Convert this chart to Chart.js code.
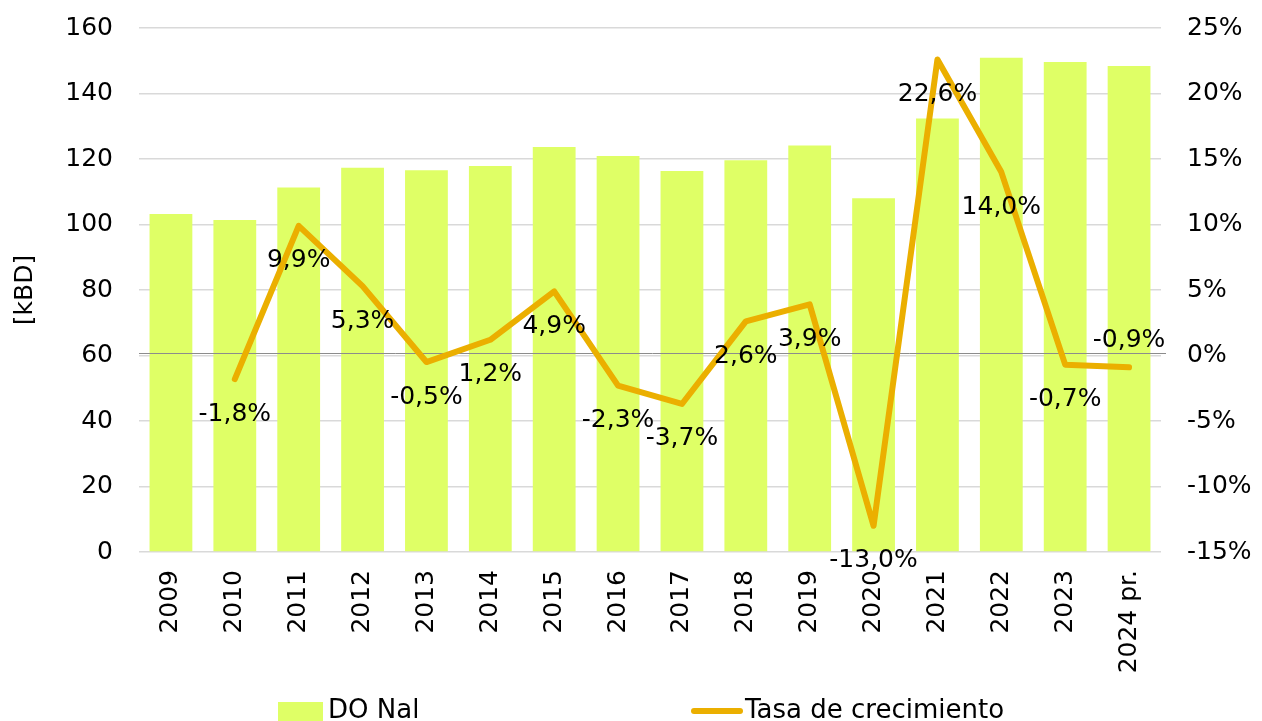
<!DOCTYPE html>
<html>
<head>
<meta charset="utf-8">
<script src="https://cdn.jsdelivr.net/npm/chart.js@4.4.1/dist/chart.umd.min.js"></script>
<style>
  html, body { margin: 0; padding: 0; background: #fff; }
  #wrap { width: 1262px; height: 721px; }
</style>
</head>
<body>
<div id="wrap"><canvas id="chart" width="1262" height="721"></canvas></div>
<script>
// datos
const years = ["2009", "2010", "2011", "2012", "2013", "2014", "2015", "2016",
  "2017", "2018", "2019", "2020", "2021", "2022", "2023", "2024 pr."];
const demandaKbd = [103.2, 101.4, 111.3, 117.3, 116.6, 117.9, 123.7, 120.9,
  116.3, 119.6, 124.1, 108.0, 132.4, 150.9, 149.6, 148.4];
const tasaCrecimiento = [null, -1.8, 9.9, 5.3, -0.5, 1.2, 4.9, -2.3,
  -3.7, 2.6, 3.9, -13.0, 22.6, 14.0, -0.7, -0.9];
// donde va la etiqueta de cada punto
const labelPlace = ["below", "below", "below", "below", "below", "below", "below", "below",
  "below", "below", "below", "below", "below", "below", "below", "above"];
const leftTicks = [0, 20, 40, 60, 80, 100, 120, 140, 160];
const rightTicks = [-15, -10, -5, 0, 5, 10, 15, 20, 25];

const FONT = "'DejaVu Sans', Verdana, sans-serif";
const BAR_COLOR = "#DFFF66";
const LINE_COLOR = "#EBAF00";

Chart.defaults.font.family = FONT;
Chart.defaults.font.size = 25;
Chart.defaults.color = "#000";

function fmtPct(v) {
  return v.toFixed(1).replace(".", ",") + "%";
}

// linea del 0% encima de las barras
const zeroLine = {
  id: "zeroLine",
  afterDatasetDraw(chart, args) {
    if (args.index !== 0) return;
    const y = chart.scales.y2.getPixelForValue(0);
    const { left, right } = chart.chartArea;
    const ctx = chart.ctx;
    ctx.save();
    ctx.strokeStyle = "#8C8C8C";
    ctx.lineWidth = 1;
    ctx.beginPath();
    ctx.moveTo(left, Math.round(y) - 2.5);
    ctx.lineTo(right + 5, Math.round(y) - 2.5);
    ctx.stroke();
    ctx.restore();
  },
};

// etiquetas de la tasa
const pointLabels = {
  id: "pointLabels",
  afterDatasetsDraw(chart) {
    const meta = chart.getDatasetMeta(1);
    const ctx = chart.ctx;
    ctx.save();
    ctx.font = "25px " + FONT;
    ctx.fillStyle = "#000";
    ctx.textAlign = "center";
    ctx.textBaseline = "middle";
    meta.data.forEach((pt, i) => {
      const v = tasaCrecimiento[i];
      if (v === null) return;
      const dy = labelPlace[i] === "above" ? -27 : 35;
      ctx.fillText(fmtPct(v), pt.x, pt.y + dy);
    });
    ctx.restore();
  },
};

// leyenda abajo
const bottomLegend = {
  id: "bottomLegend",
  afterDraw(chart) {
    const ctx = chart.ctx;
    const ds = chart.data.datasets;
    const y = 711;
    ctx.save();
    ctx.font = "26px " + FONT;
    ctx.textBaseline = "middle";
    ctx.textAlign = "left";

    ctx.fillStyle = ds[0].backgroundColor;
    ctx.fillRect(278, 702, 45, 19);
    ctx.fillStyle = "#000";
    ctx.fillText(ds[0].label, 328, y);

    ctx.strokeStyle = ds[1].borderColor;
    ctx.lineWidth = 6;
    ctx.lineCap = "round";
    ctx.beginPath();
    ctx.moveTo(694, y);
    ctx.lineTo(740, y);
    ctx.stroke();
    ctx.fillText(ds[1].label, 745, y);
    ctx.restore();
  },
};

function fixVertical(width) {
  return (scale) => {
    scale.width = width;
    scale.paddingTop = 0;
    scale.paddingBottom = 0;
  };
}

new Chart(document.getElementById("chart"), {
  type: "bar",
  data: {
    labels: years,
    datasets: [
      {
        type: "bar",
        label: "DO Nal",
        data: demandaKbd,
        backgroundColor: BAR_COLOR,
        yAxisID: "y",
        categoryPercentage: 1,
        barPercentage: 0.67,
        order: 1,
      },
      {
        type: "line",
        label: "Tasa de crecimiento",
        data: tasaCrecimiento,
        borderColor: LINE_COLOR,
        backgroundColor: LINE_COLOR,
        borderWidth: 6,
        borderCapStyle: "round",
        borderJoinStyle: "round",
        pointRadius: 0,
        tension: 0,
        yAxisID: "y2",
        order: 0,
      },
    ],
  },
  options: {
    responsive: false,
    animation: false,
    layout: { padding: { top: 28, bottom: 0, left: 0, right: 0 } },
    plugins: {
      legend: { display: false },
      tooltip: { enabled: false },
    },
    scales: {
      x: {
        grid: { display: false, drawTicks: false },
        border: { display: false },
        ticks: { minRotation: 90, maxRotation: 90, padding: 18, autoSkip: false },
        afterFit(scale) {
          scale.height = 169;
          scale.paddingLeft = 0;
          scale.paddingRight = 0;
        },
      },
      y: {
        position: "left",
        min: leftTicks[0],
        max: leftTicks[leftTicks.length - 1],
        afterBuildTicks(scale) { scale.ticks = leftTicks.map((v) => ({ value: v })); },
        grid: { color: "#D9D9D9", lineWidth: 1.5, drawTicks: false },
        border: { display: false },
        ticks: { padding: 26 },
        title: { display: true, text: "[kBD]", padding: { top: 10, bottom: 0 } },
        afterFit: fixVertical(139),
      },
      y2: {
        position: "right",
        min: rightTicks[0],
        max: rightTicks[rightTicks.length - 1],
        afterBuildTicks(scale) { scale.ticks = rightTicks.map((v) => ({ value: v })); },
        grid: { display: false, drawTicks: false },
        border: { display: false },
        ticks: { padding: 26, callback: (v) => v + "%" },
        afterFit: fixVertical(101),
      },
    },
  },
  plugins: [zeroLine, pointLabels, bottomLegend],
});
</script>
</body>
</html>
